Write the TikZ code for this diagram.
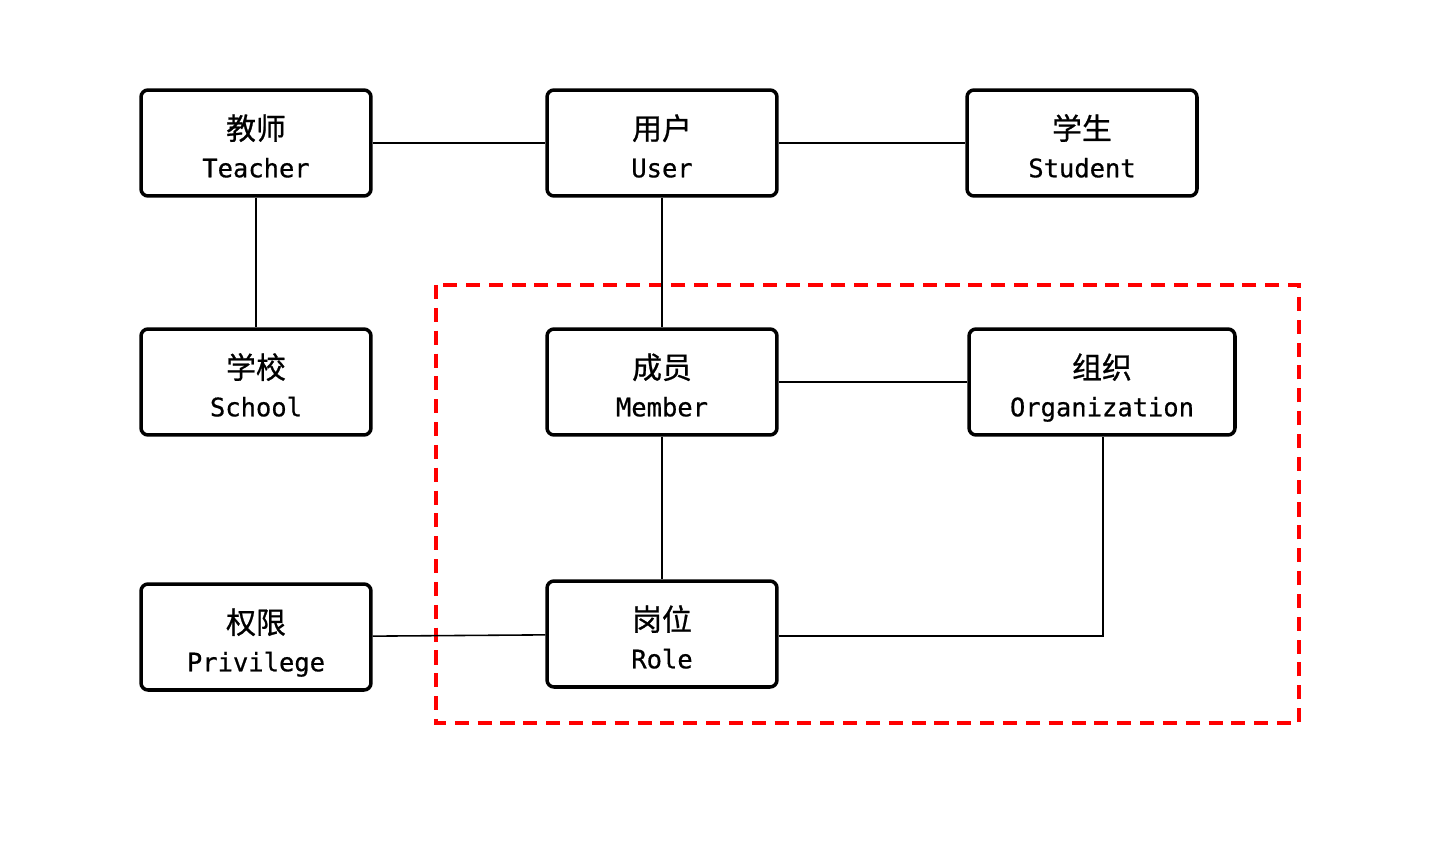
\documentclass[tikz,border=0pt]{standalone}
\usepackage{fontspec}
\setmainfont[FakeBold=0.6]{DejaVu Sans Mono}
\newfontfamily\cjk[FakeBold=0.8]{Noto Sans CJK SC}
\usetikzlibrary{positioning}

\newcommand{\zh}[1]{{\cjk\fontsize{17}{21.5}\selectfont\rule{0pt}{24pt}#1}}

\begin{document}
\begin{tikzpicture}[
    x=0.02cm, y=-0.02cm,
    every node/.style={font=\fontsize{14.5}{21.5}\selectfont},
    entity/.style={draw, rounded corners=4pt, line width=2pt,
                   minimum width=4.6cm, minimum height=2.12cm, align=center,
                   inner sep=0pt},
    link/.style={line width=0.9pt},
    group/.style={draw=red, line width=1.8pt, dash pattern=on 8pt off 5pt}
  ]
  \useasboundingbox (0,0) rectangle (1452,844);
  % outer entities
  \node[entity] (teacher)   at (256,143) {\zh{教师}\\Teacher\strut};
  \node[entity] (user)      at (662,143) {\zh{用户}\\User\strut};
  \node[entity] (student)   at (1082,143) {\zh{学生}\\Student\strut};
  \node[entity] (school)    at (256,382) {\zh{学校}\\School\strut};
  \node[entity] (privilege) at (256,637) {\zh{权限}\\Privilege\strut};
  % inner group
  \node[entity] (member)    at (662,382) {\zh{成员}\\Member\strut};
  \node[entity, minimum width=5.32cm] (org) at (1102,382) {\zh{组织}\\Organization\strut};
  \node[entity] (role)      at (662,634) {\zh{岗位}\\Role\strut};
  \coordinate (corner) at (1103,636);
  \coordinate (gtl) at (436,285);
  \coordinate (gbr) at (1299,723);
  \draw[group] (gtl) rectangle (gbr);

  \draw[link] (teacher) -- (user);
  \draw[link] (user) -- (student);
  \draw[link] (teacher) -- (school);
  \draw[link] (user) -- (member);
  \draw[link] (member) -- (org);
  \draw[link] (member) -- (role);
  \draw[link] (privilege) -- (role);
  \draw[link] (role.east |- corner) -- (corner) -- (org.south -| corner);
\end{tikzpicture}
\end{document}
